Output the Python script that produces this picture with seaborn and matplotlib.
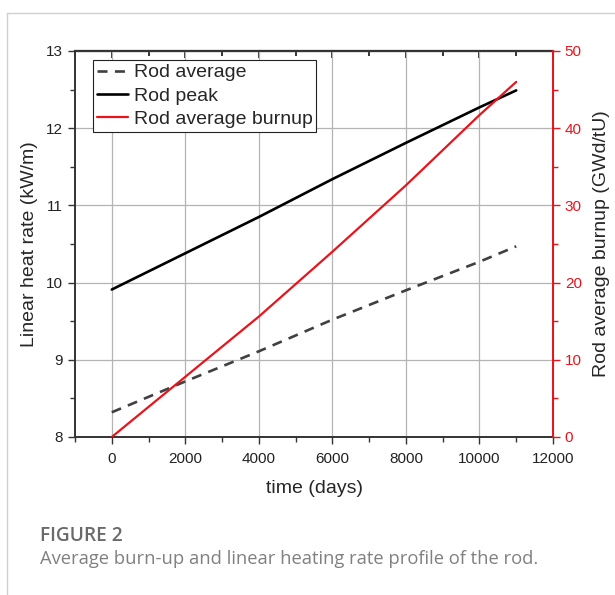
import matplotlib
matplotlib.use("Agg")
import matplotlib.pyplot as plt
from matplotlib.lines import Line2D
from matplotlib.ticker import MultipleLocator
import pandas as pd
import seaborn as sns

# data
time_days = [0, 2000, 4000, 6000, 8000, 10000, 11000]
rod_average = [8.32, 8.72, 9.11, 9.52, 9.90, 10.27, 10.47]
rod_peak = [9.91, 10.38, 10.85, 11.34, 11.81, 12.27, 12.49]
rod_burnup = [0.0, 7.8, 15.6, 24.0, 32.6, 41.7, 46.0]

df = pd.DataFrame({"time": time_days, "avg": rod_average,
                   "peak": rod_peak, "burnup": rod_burnup})

sns.set_style("ticks")
plt.rcParams["font.family"] = ["Liberation Sans", "DejaVu Sans"]

fig = plt.figure(figsize=(6.15, 5.95), dpi=100)
ax = fig.add_axes([75 / 615, 1 - 437 / 595, 478 / 615, 386 / 595])
ax2 = ax.twinx()

sns.lineplot(data=df, x="time", y="avg", ax=ax, color="#404040",
             linewidth=1.9, label="Rod average")
ax.lines[-1].set_dashes([3.8, 2.8])
sns.lineplot(data=df, x="time", y="peak", ax=ax, color="black",
             linewidth=1.9, label="Rod peak")
sns.lineplot(data=df, x="time", y="burnup", ax=ax2, color="#e8141c",
             linewidth=1.6, label="Rod average burnup")

# left axis
ax.set_xlim(-1000, 12000)
ax.set_ylim(8, 13)
ax.xaxis.set_major_locator(MultipleLocator(2000))
ax.xaxis.set_minor_locator(MultipleLocator(1000))
ax.yaxis.set_major_locator(MultipleLocator(1))
ax.yaxis.set_minor_locator(MultipleLocator(0.5))
ax.grid(True, which="major", color="#b4b4b4", linewidth=0.9)
ax.set_axisbelow(True)
ax.tick_params(axis="both", which="major", labelsize=11, length=5,
               width=1, colors="#333333", labelcolor="#222222")
ax.tick_params(axis="x", which="major", pad=6)
ax.tick_params(axis="both", which="minor", length=3.5, width=1,
               colors="#333333")
ax.set_xlabel("time (days)", fontsize=14, labelpad=10)
ax.set_ylabel("Linear heat rate (kW/m)", fontsize=14, labelpad=6)
for s in ["left", "bottom", "top"]:
    ax.spines[s].set_linewidth(1.4)
    ax.spines[s].set_color("#333333")

# top ticks drawn inward, no labels
top = ax.secondary_xaxis("top")
top.xaxis.set_major_locator(MultipleLocator(2000))
top.xaxis.set_minor_locator(MultipleLocator(1000))
top.tick_params(which="major", direction="in", length=5, width=1.2,
                labeltop=False, colors="#111111")
top.tick_params(which="minor", direction="in", length=3.5, width=1.2,
                colors="#111111")
top.spines["top"].set_linewidth(1.6)
top.spines["top"].set_color("#111111")

# right axis
red = "#e8141c"
ax2.set_ylim(0, 50)
ax2.yaxis.set_major_locator(MultipleLocator(10))
ax2.yaxis.set_minor_locator(MultipleLocator(5))
ax2.spines["right"].set_visible(True)
ax2.spines["right"].set_color(red)
ax2.spines["right"].set_linewidth(1.4)
for s in ["left", "bottom", "top"]:
    ax2.spines[s].set_visible(False)
ax2.tick_params(axis="y", which="major", colors=red, labelsize=11,
                length=5, width=1)
ax2.tick_params(axis="y", which="minor", colors=red, length=3.5, width=1)
ax2.set_ylabel("Rod average burnup (GWd/tU)", fontsize=14, labelpad=8)

# combined legend
h1, l1 = ax.get_legend_handles_labels()
h2, l2 = ax2.get_legend_handles_labels()
ax2.get_legend().remove()
ax.get_legend().remove()
leg = ax2.legend(h1 + h2, l1 + l2, loc="upper left",
                 bbox_to_anchor=(0.037, 0.977), fontsize=14,
                 frameon=True, fancybox=False, framealpha=1,
                 edgecolor="#222222", handlelength=1.6,
                 handletextpad=0.3, labelspacing=0.3, borderpad=0.2,
                 borderaxespad=0)
leg.get_frame().set_linewidth(0.8)

# caption and page frame
fig.text(40 / 615, 1 - 536 / 595, "FIGURE 2", fontsize=13.8,
         fontweight="semibold", color="#6a6a6a", family="Open Sans",
         va="center")
fig.text(40 / 615, 1 - 559 / 595,
         "Average burn-up and linear heating rate profile of the rod.",
         fontsize=13.2, color="#808080", family="Open Sans", va="center")
fig.add_artist(Line2D([7 / 615, 1], [1 - 13 / 595, 1 - 13 / 595],
                      color="#d0d0d0", linewidth=1))
fig.add_artist(Line2D([7 / 615, 7 / 615], [0, 1 - 13 / 595],
                      color="#d0d0d0", linewidth=1))

plt.savefig("out.png", dpi=100)
